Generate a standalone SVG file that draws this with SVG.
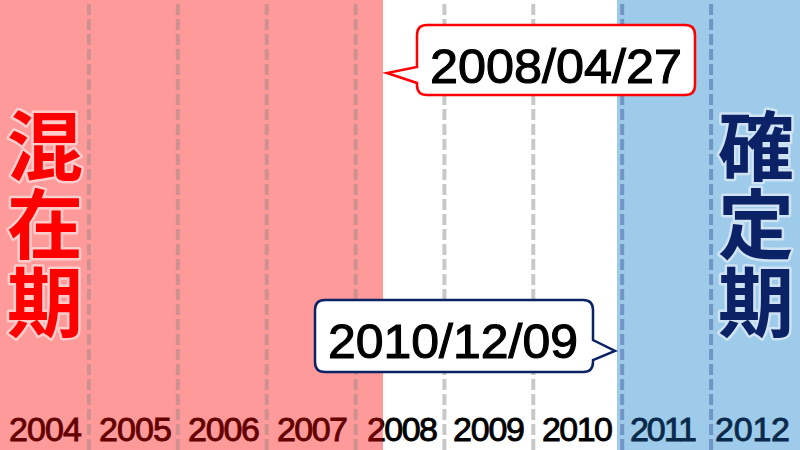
<svg xmlns="http://www.w3.org/2000/svg" width="800" height="450" viewBox="0 0 800 450">
<style>
.yr{font-family:"Liberation Sans",Arial,sans-serif;font-size:34px;text-anchor:middle;stroke-width:0.9}
.big{font-family:"Noto Sans CJK JP","Noto Sans CJK SC",sans-serif;font-size:76px;font-weight:bold;text-anchor:middle;paint-order:stroke;stroke-linejoin:round}
.date{font-family:"Liberation Sans",Arial,sans-serif;font-size:49px;fill:#000;stroke:#000;stroke-width:1.1}
.dl{stroke-width:4;stroke-dasharray:11 4;fill:none}
</style>
<defs>
<clipPath id="cpL"><rect x="0" y="0" width="383" height="450"/></clipPath>
<clipPath id="cpR"><rect x="383" y="0" width="417" height="450"/></clipPath>
</defs>
<g id="background">
<rect x="0" y="0" width="383" height="450" fill="#ff9a9a"/>
<rect x="383" y="0" width="234" height="450" fill="#ffffff"/>
<rect x="617" y="0" width="183" height="450" fill="#9ecbea"/>
</g>
<g id="gridlines">
<line class="dl" x1="88.9" y1="4" x2="88.9" y2="450" stroke="#cf9090"/>
<line class="dl" x1="177.8" y1="4" x2="177.8" y2="450" stroke="#cf9090"/>
<line class="dl" x1="266.7" y1="4" x2="266.7" y2="450" stroke="#cf9090"/>
<line class="dl" x1="355.6" y1="4" x2="355.6" y2="450" stroke="#cf9090"/>
<line class="dl" x1="444.4" y1="4" x2="444.4" y2="450" stroke="#c8c8c8"/>
<line class="dl" x1="533.3" y1="4" x2="533.3" y2="450" stroke="#c8c8c8"/>
<line class="dl" x1="622.2" y1="4" x2="622.2" y2="450" stroke="#7096c6"/>
<line class="dl" x1="711.1" y1="4" x2="711.1" y2="450" stroke="#7096c6"/>
</g>
<g id="years">
<text class="yr" x="45.5" y="441" fill="#640000" stroke="#640000" textLength="73">2004</text>
<text class="yr" x="135.5" y="441" fill="#640000" stroke="#640000" textLength="73">2005</text>
<text class="yr" x="224" y="441" fill="#640000" stroke="#640000" textLength="72">2006</text>
<text class="yr" x="312.5" y="441" fill="#640000" stroke="#640000" textLength="71">2007</text>
<text class="yr" x="402.5" y="441" fill="#640000" stroke="#640000" textLength="71" clip-path="url(#cpL)">2008</text>
<text class="yr" x="402.5" y="441" fill="#000000" stroke="#000000" textLength="71" clip-path="url(#cpR)">2008</text>
<text class="yr" x="489" y="441" fill="#000000" stroke="#000000" textLength="72">2009</text>
<text class="yr" x="577.5" y="441" fill="#000000" stroke="#000000" textLength="71">2010</text>
<text class="yr" x="663.5" y="441" fill="#0a2a4c" stroke="#0a2a4c" textLength="67">2011</text>
<text class="yr" x="752.5" y="441" fill="#0a2a4c" stroke="#0a2a4c" textLength="75">2012</text>
</g>
<g id="node-konzaiki">
<text class="big" x="45" y="175" fill="#ff0000" stroke="#ffcccc" stroke-width="5">混</text>
<text class="big" x="45" y="253" fill="#ff0000" stroke="#ffcccc" stroke-width="5">在</text>
<text class="big" x="45" y="331" fill="#ff0000" stroke="#ffcccc" stroke-width="5">期</text>
</g>
<g id="node-kakuteiki">
<text class="big" x="756" y="175" fill="#0c2266" stroke="#cfe3f3" stroke-width="5">確</text>
<text class="big" x="756" y="253" fill="#0c2266" stroke="#cfe3f3" stroke-width="5">定</text>
<text class="big" x="756" y="331" fill="#0c2266" stroke="#cfe3f3" stroke-width="5">期</text>
</g>
<g id="callout-20080427">
<path d="M427,25 H685 Q695,25 695,35 V85 Q695,95 685,95 H427 Q417,95 417,85 V83 L387,73 L417,67 V35 Q417,25 427,25 Z" fill="#ffffff" stroke="#ff0000" stroke-width="2.5" stroke-linejoin="miter"/>
<text class="date" x="430" y="83" textLength="252" lengthAdjust="spacingAndGlyphs">2008/04/27</text>
</g>
<g id="callout-20101209">
<path d="M325,300 H583 Q593,300 593,310 V340 L615,351 L593,360 V362 Q593,372 583,372 H325 Q315,372 315,362 V310 Q315,300 325,300 Z" fill="#ffffff" stroke="#0c2266" stroke-width="2.5" stroke-linejoin="miter"/>
<text class="date" x="328" y="358" textLength="250" lengthAdjust="spacingAndGlyphs">2010/12/09</text>
</g>
<g id="connectors"></g>
</svg>
